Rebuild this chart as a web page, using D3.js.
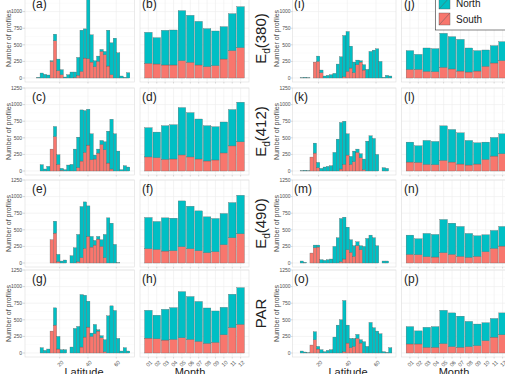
<!DOCTYPE html>
<html><head><meta charset="utf-8">
<script src="https://cdn.jsdelivr.net/npm/d3@7"></script>
<style>body{margin:0;background:#fff;} svg{display:block;font-family:"Liberation Sans",Arial,sans-serif;}</style>
</head><body><svg id="c" width="505" height="374"></svg>
<script>
// ---------------- data ----------------
const months = ["01","02","03","04","05","06","07","08","09","10","11","12"];
const hemispheres = ["North","South"];
const yTicks = [0,250,500,750,1000,1250];
const latTicks = [20,40,60];
// latitude bin lower edges (left block, right block)
const latBinWidthL = 2.35;
const latBinStartsL = [3.8,6.15,8.5,10.85,13.2,15.55,17.9,20.25,22.6,24.95,27.3,29.65,32,34.35,36.7,39.05,41.4,43.75,46.1,48.45,50.8,53.15,55.5,57.85,60.2,62.55,64.9,67.25];
const latBinWidthR = 2.28;
const latBinStartsR = [7.2,9.48,11.76,14.04,16.32,18.6,20.88,23.16,25.44,27.72,30,32.28,34.56,36.84,39.12,41.4,43.68,45.96,48.24,50.52,52.8,55.08,57.36,59.64,61.92,64.2,66.48,68.76];

// histogram counts per latitude bin (North = teal, South = red)
const latN_a = [10,75,55,45,10,100,175,75,15,50,90,80,270,620,440,960,410,90,80,30,50,540,480,600,380,30,10,80];
const latS_a = [0,0,0,0,250,560,110,50,0,0,0,10,40,100,300,290,240,170,250,400,350,180,50,0,0,0,0,0];
const latN_c = [0,95,30,70,0,150,145,30,20,90,100,330,460,770,630,540,390,60,60,60,120,480,750,560,300,20,80,60];
const latS_c = [0,0,0,0,330,520,100,10,0,0,0,0,50,150,280,390,170,180,270,400,320,120,30,0,0,0,0,0];
const latN_e = [0,0,0,0,0,180,110,30,45,0,110,230,410,770,700,460,160,70,40,100,350,680,600,280,5,0,0,0];
const latS_e = [0,0,0,0,350,450,20,0,0,0,0,0,20,80,220,400,240,270,360,250,80,0,0,0,0,0,0,0];
const latN_g = [0,80,40,60,0,260,190,50,50,0,90,370,400,790,630,390,50,140,20,30,180,560,710,640,220,30,80,30];
const latS_g = [0,0,0,0,330,420,60,0,0,0,0,0,0,90,240,390,250,290,330,230,20,0,0,0,0,0,0,0];
const latN_i = [5,10,5,0,0,80,40,30,40,50,70,210,320,620,600,330,160,70,20,80,130,400,420,440,250,10,40,30];
const latS_i = [0,0,0,0,240,250,80,0,0,0,0,0,0,20,100,150,80,200,240,120,0,0,0,0,0,0,0,0];
const latN_k = [5,10,5,0,150,80,40,60,70,80,280,480,700,650,320,120,160,50,60,160,450,530,490,250,0,50,40,0];
const latS_k = [0,0,0,210,270,50,0,0,0,0,0,0,30,100,240,100,140,280,200,20,0,0,0,0,0,0,0,0];
const latN_m = [30,10,0,0,40,30,50,40,50,60,250,380,650,630,340,190,160,60,60,250,370,420,380,260,0,30,30,0];
const latS_m = [0,0,0,150,230,240,0,0,0,0,0,0,20,60,200,160,100,260,200,0,0,0,0,0,0,0,0,0];
const latN_o = [30,15,5,0,120,40,50,20,40,50,240,420,500,770,270,140,120,60,50,170,100,460,380,330,290,20,10,80];
const latS_o = [0,0,0,120,200,60,0,0,0,0,0,0,0,20,150,80,100,220,150,0,0,0,0,0,0,0,0,0];

// monthly counts (North = teal, South = red)
const monN_b = [467,396,522,527,753,708,657,572,522,487,557,617];
const monS_b = [221,211,196,196,261,236,196,171,186,286,412,457];
const monN_d = [440,385,506,516,713,667,602,531,501,466,547,597];
const monS_d = [212,201,176,181,242,212,181,151,166,272,378,439];
const monN_f = [470,420,500,490,690,640,600,540,500,470,530,580];
const monS_f = [215,205,180,185,245,215,185,155,170,275,380,440];
const monN_h = [419,355,463,478,695,645,601,533,473,414,503,553];
const monS_h = [224,214,195,205,229,205,175,145,160,274,382,431];
const monN_j = [282,226,352,347,512,486,477,362,307,246,261,286];
const monS_j = [130,130,100,95,161,136,105,90,105,176,226,261];
const monN_l = [300,250,360,350,520,490,470,370,320,260,280,300];
const monS_l = [135,130,100,95,160,135,105,90,105,175,225,260];
const monN_n = [290,240,350,340,500,470,450,360,310,255,270,295];
const monS_n = [130,125,95,90,155,130,100,85,100,170,220,255];
const monN_p = [261,197,301,311,502,508,469,380,325,271,281,330];
const monS_p = [136,136,86,86,141,96,86,96,111,185,239,274];

const rowLabelsRight = [["E","d","(380)"],["E","d","(412)"],["E","d","(490)"],["PAR","",""]];

// ---------------- layout ----------------
const svg = d3.select("#c");
const colors = {North:"#00BFC4", South:"#F8766D"};
const rowTop = [-5, 88, 180, 270];
const rowH = 87;
const cols = [
  {type:"lat", x0:25, x1:134.5, latDom:[-4.5,72.9], starts:latBinStartsL, bw:latBinWidthL,
   labelX:22, titleX:10.5, tagX:32, axTitleX:84},
  {type:"mon", x0:140, x1:249, tagX:142, axTitleX:190},
  {type:"lat", x0:292.5, x1:396, latDom:[1.9,73.9], starts:latBinStartsR, bw:latBinWidthR,
   labelX:290.5, titleX:279, tagX:294, axTitleX:348},
  {type:"mon", x0:401.5, x1:511, tagX:404, axTitleX:454}
];
const panels = [
  {id:"a",r:0,c:0,n:latN_a,s:latS_a},{id:"b",r:0,c:1,n:monN_b,s:monS_b},
  {id:"i",r:0,c:2,n:latN_i,s:latS_i},{id:"j",r:0,c:3,n:monN_j,s:monS_j},
  {id:"c",r:1,c:0,n:latN_c,s:latS_c},{id:"d",r:1,c:1,n:monN_d,s:monS_d},
  {id:"k",r:1,c:2,n:latN_k,s:latS_k},{id:"l",r:1,c:3,n:monN_l,s:monS_l},
  {id:"e",r:2,c:0,n:latN_e,s:latS_e},{id:"f",r:2,c:1,n:monN_f,s:monS_f},
  {id:"m",r:2,c:2,n:latN_m,s:latS_m},{id:"n",r:2,c:3,n:monN_n,s:monS_n},
  {id:"g",r:3,c:0,n:latN_g,s:latS_g},{id:"h",r:3,c:1,n:monN_h,s:monS_h},
  {id:"o",r:3,c:2,n:latN_o,s:latS_o},{id:"p",r:3,c:3,n:monN_p,s:monS_p}
];

panels.forEach(p => {
  const col = cols[p.c];
  const top = rowTop[p.r], bot = top + rowH;
  const y = d3.scaleLinear().domain([-60, 1250]).range([bot, top]);
  const g = svg.append("g");
  g.append("rect").attr("x",col.x0).attr("y",top).attr("width",col.x1-col.x0).attr("height",rowH)
    .attr("fill","#fff");
  d3.range(125,1250,250).forEach(v => g.append("line").attr("x1",col.x0).attr("x2",col.x1)
    .attr("y1",y(v)).attr("y2",y(v)).attr("stroke","#f5f5f5").attr("stroke-width",0.4));
  yTicks.forEach(v => g.append("line").attr("x1",col.x0).attr("x2",col.x1)
    .attr("y1",y(v)).attr("y2",y(v)).attr("stroke","#ededed").attr("stroke-width",0.6));
  let x, bars = [];
  if (col.type === "lat") {
    x = d3.scaleLinear().domain(col.latDom).range([col.x0, col.x1]);
    latTicks.forEach(v => g.append("line").attr("x1",x(v)).attr("x2",x(v)).attr("y1",top).attr("y2",bot)
      .attr("stroke","#ededed").attr("stroke-width",0.6));
    col.starts.forEach((b,i) => bars.push({x0:x(b), x1:x(b+col.bw), n:p.n[i], s:p.s[i]}));
  } else {
    x = d3.scaleBand().domain(months).range([col.x0, col.x1]).paddingInner(0.1).paddingOuter(0.55);
    months.forEach(m => g.append("line").attr("x1",x(m)+x.bandwidth()/2).attr("x2",x(m)+x.bandwidth()/2)
      .attr("y1",top).attr("y2",bot).attr("stroke","#ededed").attr("stroke-width",0.6));
    months.forEach((m,i) => bars.push({x0:x(m), x1:x(m)+x.bandwidth(), n:p.n[i], s:p.s[i]}));
  }
  bars.forEach(b => {
    if (b.s > 0) g.append("rect").attr("x",b.x0).attr("width",b.x1-b.x0)
      .attr("y",y(b.s)).attr("height",y(0)-y(b.s)).attr("fill",colors.South)
      .attr("stroke","#5a5a5a").attr("stroke-width",0.3);
    if (b.n > 0) g.append("rect").attr("x",b.x0).attr("width",b.x1-b.x0)
      .attr("y",y(b.s+b.n)).attr("height",y(b.s)-y(b.s+b.n)).attr("fill",colors.North)
      .attr("stroke","#5a5a5a").attr("stroke-width",0.3);
  });
  g.append("rect").attr("x",col.x0).attr("y",top).attr("width",col.x1-col.x0).attr("height",rowH)
    .attr("fill","none").attr("stroke","#dcdcdc").attr("stroke-width",0.6);
  const tickXs = col.type === "lat" ? latTicks.map(v => x(v)) : months.map(m => x(m)+x.bandwidth()/2);
  tickXs.forEach(tx => g.append("line").attr("x1",tx).attr("x2",tx).attr("y1",bot).attr("y2",bot+1.5)
    .attr("stroke","#b3b3b3").attr("stroke-width",0.5));
  if (p.r === 3) {
    const labs = col.type === "lat" ? latTicks.map(String) : months;
    labs.forEach((l,i) => g.append("text").attr("transform",`translate(${tickXs[i]+1.5},${bot+3}) rotate(-45)`)
      .attr("text-anchor","end").attr("dy","0.7em").attr("font-size",5.5).attr("fill","#4d4d4d").text(l));
    g.append("text").attr("x",col.axTitleX).attr("y",376).attr("text-anchor","middle")
      .attr("font-size",11).attr("fill","#222").text(col.type === "lat" ? "Latitude" : "Month");
  }
  if (col.type === "lat") {
    yTicks.forEach(v => {
      g.append("line").attr("x1",col.labelX+0.5).attr("x2",col.x0).attr("y1",y(v)).attr("y2",y(v))
        .attr("stroke","#b3b3b3").attr("stroke-width",0.5);
      g.append("text").attr("x",col.labelX).attr("y",y(v)).attr("dy","0.35em").attr("text-anchor","end")
        .attr("font-size",5).attr("fill","#4d4d4d").text(v);
    });
    g.append("text").attr("transform",`translate(${col.titleX},${top+rowH/2}) rotate(-90)`)
      .attr("text-anchor","middle").attr("font-size",7).attr("fill","#4d4d4d").text("Number of profiles");
  }
  g.append("text").attr("x",col.tagX).attr("y",top+13).attr("font-size",12).attr("fill","#222").text(`(${p.id})`);
});

rowLabelsRight.forEach((lab,r) => {
  const t = svg.append("text").attr("transform",`translate(266,${rowTop[r]+rowH/2}) rotate(-90)`)
    .attr("text-anchor","middle").attr("font-size",15).attr("fill","#222");
  t.append("tspan").text(lab[0]);
  if (lab[1]) { t.append("tspan").attr("font-size",10).attr("dy",4).text(lab[1]);
    t.append("tspan").attr("dy",-4).text(lab[2]); }
});

const lg = svg.append("g");
lg.append("rect").attr("x",435.5).attr("y",-4).attr("width",80).attr("height",34)
  .attr("fill","#fff").attr("stroke","#333").attr("stroke-width",0.6);
hemispheres.forEach((h,i) => {
  const ky = -3 + i*16;
  lg.append("rect").attr("x",439).attr("y",ky).attr("width",11).attr("height",12)
    .attr("fill",colors[h]).attr("stroke","#5a5a5a").attr("stroke-width",0.4);
  lg.append("line").attr("x1",439).attr("y1",ky+12).attr("x2",450).attr("y2",ky)
    .attr("stroke","#5a5a5a").attr("stroke-width",0.5);
  lg.append("text").attr("x",456).attr("y",ky+6).attr("dy","0.35em").attr("font-size",10)
    .attr("fill","#222").text(h);
});
</script></body></html>
